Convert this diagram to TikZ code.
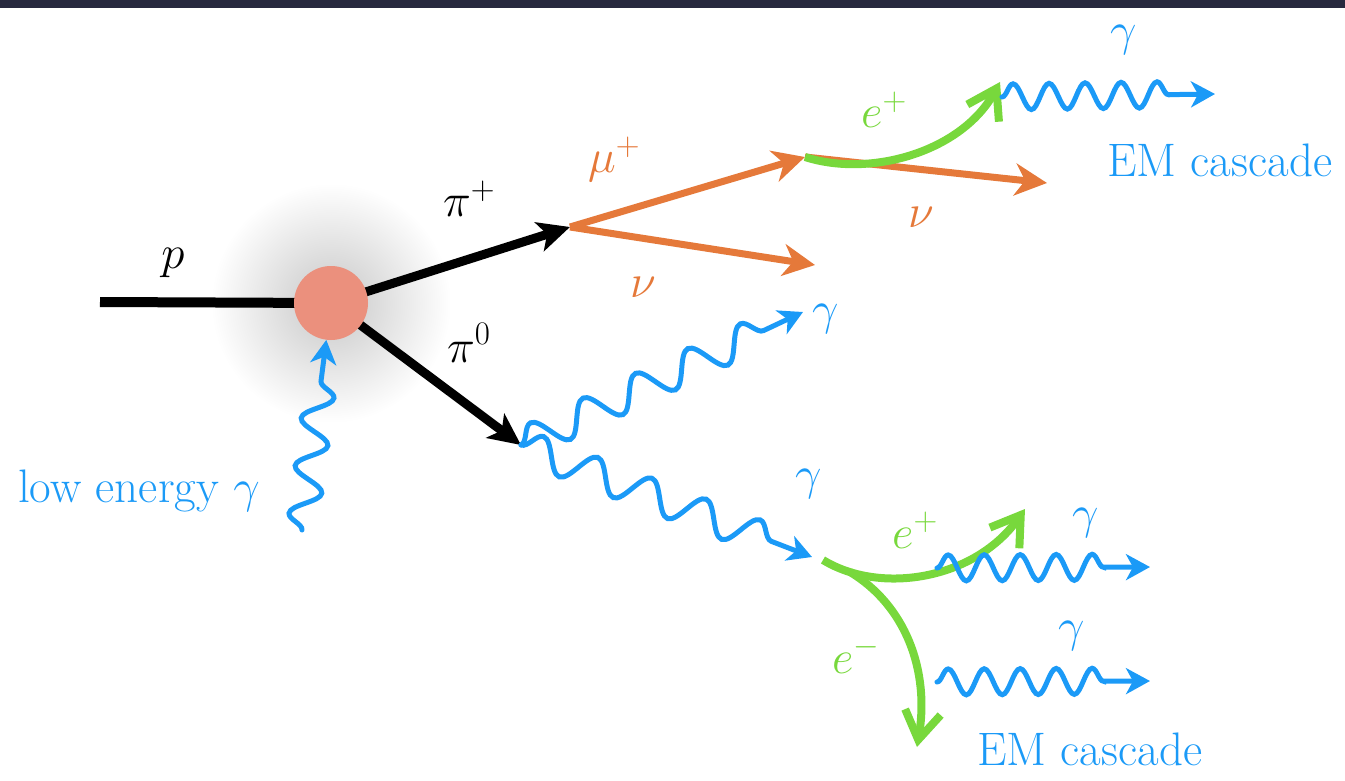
\RequirePackage{fix-cm}
\documentclass[tikz,border=0pt]{standalone}
\usetikzlibrary{arrows.meta,decorations.pathmorphing,positioning,calc}

\definecolor{hadorange}{HTML}{E5793A}
\definecolor{lepgreen}{HTML}{78D83C}
\definecolor{phblue}{HTML}{1B9AF7}
\definecolor{vtxsalmon}{HTML}{EB907D}
\definecolor{topbar}{HTML}{27293F}

\begin{document}
\begin{tikzpicture}[x=1pt,y=-1pt,
    lbl/.style={inner sep=0pt,anchor=base west,font=\fontsize{47}{56}\selectfont},
    pion/.style={line width=9pt,-{Stealth[length=32pt,width=30pt,inset=8pt]}},
    muon/.style={draw=hadorange,line width=7pt,-{Stealth[length=32pt,width=32pt,inset=10pt]}},
    lepton/.style={draw=lepgreen,line width=8pt,-{Straight Barb[length=28pt,width=36pt]}},
    photon/.style={draw=phblue,line width=5pt,line cap=round,decorate,
      -{Stealth[length=24pt,width=26pt,inset=7pt]}},
    bigwave/.style={decoration={snake,amplitude=16pt,segment length=58pt,post length=30pt}},
    lowwave/.style={decoration={snake,amplitude=15pt,segment length=48pt,post length=22pt}},
    smallwave/.style={decoration={snake,amplitude=13pt,segment length=36pt,post length=40pt}}]
  \useasboundingbox (0,0) rectangle (1345,781);
  \fill[topbar] (0,0) rectangle (1345,8);
  % Interaction point and its glow
  \coordinate (vc) at (331,303);
  \shade[inner color=black!22,outer color=white] (vc) circle (120pt);
  \coordinate (pstart) at (100,302);
  \coordinate (pipl) at (570,227);
  \coordinate (pizr) at (521,445);
  \draw[line width=10pt] (pstart) -- (vc);
  \draw[pion] (vc) -- (pipl);
  \draw[pion] (vc) -- (pizr);
  \node[circle,fill=vtxsalmon,minimum size=74pt,inner sep=0pt] (vtx) at (vc) {};
  \node[lbl,anchor=base] (plbl) at (173,268) {$p$};
  \node[lbl] (piplbl) at (443,217) {$\pi^{+}$};
  \node[lbl] (pizlbl) at (447,362) {$\pi^{0}$};
  % Incoming photon
  \coordinate (lowst) at (302,530);
  \draw[photon,lowwave] (lowst) -- (vtx);
  \node[lbl,text=phblue] (lowlbl) at (18,502) {low energy $\gamma$};
  % Charged pion decay
  \coordinate (mudec) at (805,157);
  \coordinate (nuA) at (815,265);
  \coordinate (nuB) at (1047,183);
  \draw[muon] (pipl) -- (mudec);
  \draw[muon] (pipl) -- (nuA);
  \draw[muon] (mudec) -- (nuB);
  \node[lbl,text=hadorange] (mulbl) at (588,173) {$\mu^{+}$};
  \node[lbl,text=hadorange] (nualbl) at (630,297) {$\nu$};
  \node[lbl,text=hadorange] (nublbl) at (908,227) {$\nu$};
  % Muon decay positron
  \coordinate (eApex) at (1000,82);
  \draw[lepton] (mudec) .. controls (870,178) and (962,152) .. (eApex);
  \node[lbl,text=lepgreen] (etlbl) at (861,128) {$e^{+}$};
  \coordinate (gtst) at (1002,97);
  \coordinate (gten) at (1215,94);
  \draw[photon,smallwave] (gtst) -- (gten);
  \node[lbl,text=phblue] (gtlbl) at (1110,46) {$\gamma$};
  \node[lbl,text=phblue] (emtlbl) at (1107,177) {EM cascade};
  % Neutral pion decay
  \coordinate (gUp) at (803,312);
  \coordinate (gDn) at (812,557);
  \draw[photon,bigwave] (pizr) -- (gUp);
  \draw[photon,bigwave] (pizr) -- (gDn);
  \node[lbl,text=phblue] (gulbl) at (812,324) {$\gamma$};
  \node[lbl,text=phblue] (gdlbl) at (795,489) {$\gamma$};
  % Pair production
  \coordinate (pairv) at (823,560);
  \coordinate (ePtip) at (1025,509);
  \coordinate (eMst) at (850,572);
  \coordinate (eMtip) at (917,747);
  \draw[lepton] (pairv) .. controls (880,595) and (975,580) .. (ePtip);
  \draw[lepton] (eMst) .. controls (905,605) and (930,670) .. (eMtip);
  \node[lbl,text=lepgreen] (eplbl) at (892,548) {$e^{+}$};
  \node[lbl,text=lepgreen] (emlbl) at (832,673) {$e^{-}$};
  \coordinate (waAst) at (937,568);
  \coordinate (waAen) at (1150,567);
  \coordinate (waBst) at (937,682);
  \coordinate (waBen) at (1150,681);
  \draw[photon,smallwave] (waAst) -- (waAen);
  \draw[photon,smallwave] (waBst) -- (waBen);
  \node[lbl,text=phblue] (walbl) at (1072,528) {$\gamma$};
  \node[lbl,text=phblue] (wblbl) at (1058,641) {$\gamma$};
  \node[lbl,text=phblue] (emblbl) at (977,765) {EM cascade};
\end{tikzpicture}
\end{document}
